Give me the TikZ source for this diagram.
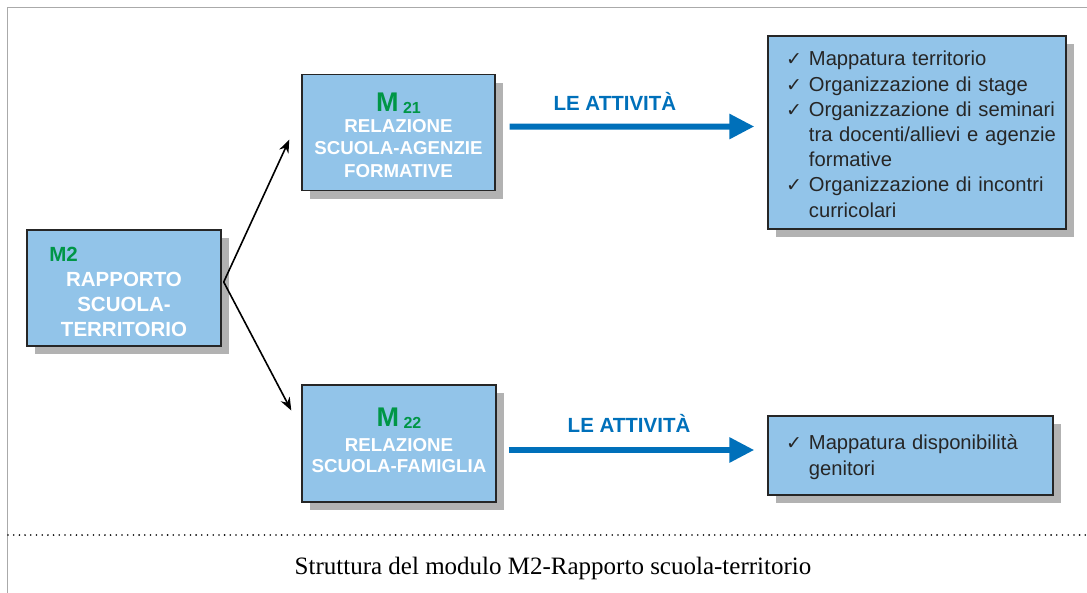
\documentclass[tikz,border=0pt]{standalone}
\usepackage{fontspec}
\setmainfont{Liberation Sans}
\newfontfamily\captionfont{Liberation Serif}
\newfontfamily\checkfont{DejaVu Sans}
\usetikzlibrary{arrows.meta,shadows,positioning}
\definecolor{boxblue}{RGB}{146,196,233}
\definecolor{modgreen}{RGB}{0,150,70}
\definecolor{actblue}{RGB}{0,112,186}
\definecolor{shadowgray}{RGB}{178,178,178}
\definecolor{framegray}{RGB}{170,170,170}
\newcommand{\chk}{{\checkfont\fontsize{19}{19}\selectfont ✓}}
\newcommand{\modnum}[2]{{\color{modgreen}\fontsize{27}{27}\selectfont #1\,\raisebox{-2pt}{\fontsize{16}{16}\selectfont #2}}}
\newcommand{\lowerby}[2]{\raisebox{-#1}[\height][\depth]{#2}}
\tikzset{
	modbox/.style={
		rectangle,
		draw=black!85,
		line width=1.4pt,
		fill=boxblue,
		drop shadow={shadow xshift=8pt,shadow yshift=-8pt,fill=shadowgray,opacity=1},
		text=white,
		align=center,
		font=\bfseries\fontsize{18.7}{22.8}\selectfont
	},
	actbox/.style={
		rectangle,
		draw=black!85,
		line width=1.4pt,
		fill=boxblue,
		drop shadow={shadow xshift=8pt,shadow yshift=-8pt,fill=shadowgray,opacity=1},
		text=black!85,
		align=left,
		inner xsep=18pt,
		font=\fontsize{20.2}{25.2}\selectfont
	},
	linkarrow/.style={
		draw=black,
		line width=1.6pt,
		-{Stealth[length=13pt,width=10pt]}
	},
	bigarrow/.style={
		draw=actblue,
		line width=6pt,
		-{Triangle[length=25pt,width=24pt]}
	},
	actlabel/.style={
		text=actblue,
		font=\bfseries\fontsize{20.5}{22}\selectfont
	},
}

\begin{document}
\begin{tikzpicture}[x=1pt,y=-1pt]
	\useasboundingbox (0,0) rectangle (1087,593);
	\draw[framegray,line width=1.5pt] (7.5,593) -- (7.5,7.5) -- (1087,7.5);

	\node[modbox,minimum width=194,minimum height=116,font=\bfseries\fontsize{20.5}{25}\selectfont] (m2) at (124,288)
		{\lowerby{6pt}{\begin{tabular}{@{}c@{}}{\color{modgreen}M2}\hspace*{121pt}\\RAPPORTO\\SCUOLA-\\TERRITORIO\end{tabular}}};
	\node[modbox,minimum width=193,minimum height=116] (m21) at (398.5,132.7)
		{\lowerby{6pt}{\begin{tabular}{@{}c@{}}\modnum{M}{21}\\[-2pt]RELAZIONE\\SCUOLA-AGENZIE\\FORMATIVE\end{tabular}}};
	\node[modbox,minimum width=194,minimum height=117] (m22) at (399,443.5)
		{\begin{tabular}{@{}c@{}}\modnum{M}{22}\\[3pt]RELAZIONE\\[-2pt]SCUOLA-FAMIGLIA\end{tabular}};

	\node[actbox,text width=262,minimum height=193] (act1) at (917,132.5)
		{\lowerby{4pt}{\begin{tabular}{@{}l@{\hspace{7pt}}l@{}}
		\chk & Mappatura territorio\\
		\chk & Organizzazione di stage\\
		\chk & Organizzazione di seminari\\
		     & tra docenti/allievi e agenzie\\
		     & formative\\
		\chk & Organizzazione di incontri\\
		     & curricolari
		\end{tabular}}};
	\node[actbox,text width=249,minimum height=79] (act2) at (910.5,455.5)
		{\lowerby{2pt}{\begin{tabular}{@{}l@{\hspace{7pt}}l@{}}
		\chk & Mappatura disponibilità\\
		     & genitori
		\end{tabular}}};

	\draw[linkarrow] ([shift={(2,-6)}]m2.east) -- ([shift={(-12,7)}]m21.west);
	\draw[linkarrow] ([shift={(2,-6)}]m2.east) -- ([shift={(-10,-33)}]m22.west);

	\draw[bigarrow] ([shift={(14,-6)}]m21.east) -- ([shift={(-13,-6)}]act1.west)
		node[actlabel,pos=0.43,yshift=25pt] {LE ATTIVITÀ};
	\draw[bigarrow] ([shift={(12,6.5)}]m22.east) -- ([shift={(-13,-5.5)}]act2.west)
		node[actlabel,pos=0.49,yshift=27pt] {LE ATTIVITÀ};

	%\draw[dotted] (7.5,535) -- (1087,535);
	\draw[line width=1.8pt,line cap=round,dash pattern=on 0pt off 5.7pt] (8,535) -- (1087,535);
	\node[font=\captionfont\fontsize{25}{27}\selectfont] (cap) at (553,568)
		{Struttura del modulo M2-Rapporto scuola-territorio};
\end{tikzpicture}
\end{document}
